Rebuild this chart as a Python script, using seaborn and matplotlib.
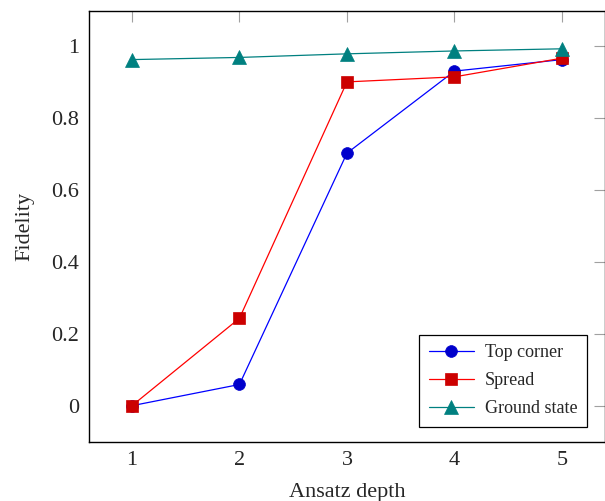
import matplotlib
matplotlib.use("Agg")
import matplotlib.pyplot as plt
import seaborn as sns
import pandas as pd

# data
depth = [1, 2, 3, 4, 5]
top_corner = [0.0, 0.059, 0.702, 0.930, 0.962]
spread = [0.0, 0.243, 0.900, 0.914, 0.966]
ground_state = [0.962, 0.968, 0.978, 0.986, 0.992]
y_ticks = [0, 0.2, 0.4, 0.6, 0.8, 1]
y_tick_labels = ["0", "0.2", "0.4", "0.6", "0.8", "1"]

sns.set_style("white")
plt.rcParams['font.family'] = ['Liberation Serif', 'DejaVu Serif']

df = pd.DataFrame({'depth': depth, 'Top corner': top_corner,
                   'Spread': spread, 'Ground state': ground_state})

fig = plt.figure(figsize=(6.05, 5.01), dpi=100)
ax = fig.add_axes([0.147, 0.1184, 0.853, 0.8596])

series = [
    ('Top corner', 'o', (0, 0, 1), (0, 0, 0.8), 8.5),
    ('Spread', 's', (1, 0, 0), (0.8, 0, 0), 8.5),
    ('Ground state', '^', (0, 0.5, 0.5), (0, 0.5, 0.5), 10.5),
]
for name, mk, lc, mc, ms in series:
    sns.lineplot(data=df, x='depth', y=name, ax=ax, color=lc, linewidth=0.9,
                 marker=mk, markersize=ms, markerfacecolor=mc,
                 markeredgecolor=mc, markeredgewidth=0.5, label=name)

ax.set_xlim(0.6, 5.4)
ax.set_ylim(-0.1, 1.097)
ax.set_xticks(depth)
ax.set_xticklabels([str(d) for d in depth])
ax.set_yticks(y_ticks)
ax.set_yticklabels(y_tick_labels)

ax.tick_params(axis='both', which='both', direction='in', length=8, width=0.8,
               color='#a0a0a0', top=True, right=True, labelsize=16)
ax.tick_params(axis='x', pad=7)
ax.tick_params(axis='y', pad=7)
for s in ax.spines.values():
    s.set_color('black')
    s.set_linewidth(1.0)
    s.set_visible(True)

ax.set_xlabel('Ansatz depth', fontsize=16, labelpad=9)
ax.set_ylabel('Fidelity', fontsize=16, labelpad=12)

leg = ax.legend(loc='lower right', bbox_to_anchor=(0.966, 0.034), fontsize=13,
                frameon=True, fancybox=False, edgecolor='black',
                handlelength=2.5, borderpad=0.55, labelspacing=0.6,
                handletextpad=0.6, borderaxespad=0)
leg.get_frame().set_linewidth(0.9)
leg.get_frame().set_alpha(1)

fig.savefig('out.png', dpi=100)
